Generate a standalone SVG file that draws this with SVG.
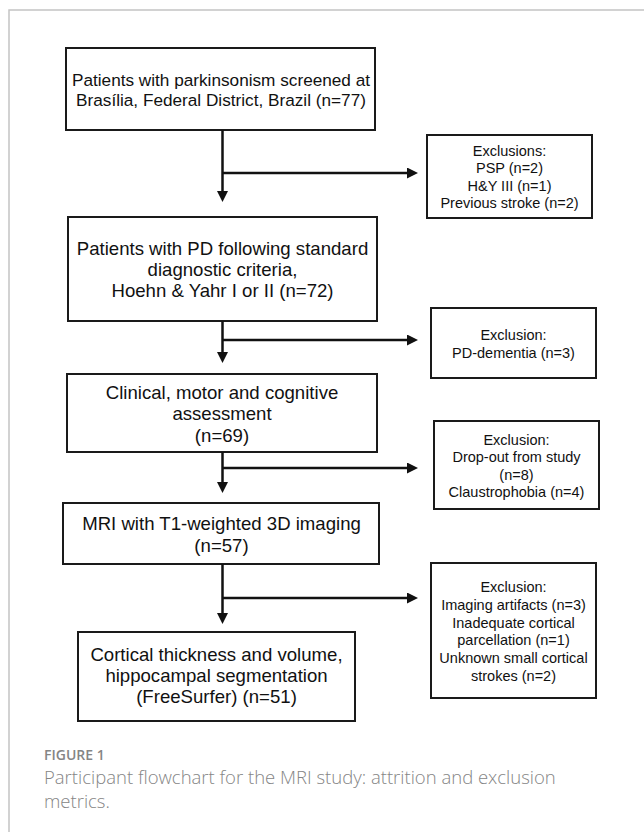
<svg xmlns="http://www.w3.org/2000/svg" width="644" height="832" viewBox="0 0 644 832">
<style>
.box{fill:#fff;stroke:#1a1a1a;stroke-width:2}
.t{font-family:"Liberation Sans",Arial,sans-serif;fill:#111;text-anchor:middle}
.m{font-size:18.6px}
.s{font-size:14.5px}
.c{fill:none;stroke:#111;stroke-width:2.5}
.cap{font-family:"Open Sans","Liberation Sans",sans-serif;fill:#858585}
</style>
<defs>
<marker id="ah" viewBox="0 0 11 11" refX="3" refY="5.5" markerWidth="11" markerHeight="11" markerUnits="userSpaceOnUse" orient="auto">
<path d="M0,0 L11,5.5 L0,11 z" fill="#111"/>
</marker>
</defs>
<rect width="644" height="832" fill="#fff"/>
<path d="M9,832 V10 H644" fill="none" stroke="#c4c4c4" stroke-width="1.5"/>

<g id="n1">
<rect class="box" x="66" y="48" width="309" height="82"/>
<text class="t" x="221" y="86" font-size="17.2">Patients with parkinsonism screened at</text>
<text class="t" x="221" y="106" font-size="17.2">Brasília, Federal District, Brazil (n=77)</text>
</g>
<g id="x1">
<rect class="box" x="427" y="135" width="165" height="83"/>
<text class="t s" x="509.5" y="155.5">Exclusions:</text>
<text class="t s" x="509.5" y="173">PSP (n=2)</text>
<text class="t s" x="509.5" y="190.5">H&amp;Y III (n=1)</text>
<text class="t s" x="509.5" y="208">Previous stroke (n=2)</text>
</g>
<g id="n2">
<rect class="box" x="68" y="217" width="309" height="104"/>
<text class="t m" x="222.5" y="254.5">Patients with PD following standard</text>
<text class="t m" x="222.5" y="275.5">diagnostic criteria,</text>
<text class="t m" x="222.5" y="297">Hoehn &amp; Yahr I or II (n=72)</text>
</g>
<g id="x2">
<rect class="box" x="431" y="308" width="165" height="70"/>
<text class="t s" x="513.5" y="339.5">Exclusion:</text>
<text class="t s" x="513.5" y="357.5">PD-dementia (n=3)</text>
</g>
<g id="n3">
<rect class="box" x="67" y="374" width="310" height="78"/>
<text class="t m" x="222" y="398.5">Clinical, motor and cognitive</text>
<text class="t m" x="222" y="420">assessment</text>
<text class="t m" x="222" y="441.5">(n=69)</text>
</g>
<g id="x3">
<rect class="box" x="434" y="421" width="165" height="88"/>
<text class="t s" x="516.5" y="444.5">Exclusion:</text>
<text class="t s" x="516.5" y="462">Drop-out from study</text>
<text class="t s" x="516.5" y="479.5">(n=8)</text>
<text class="t s" x="516.5" y="497">Claustrophobia (n=4)</text>
</g>
<g id="n4">
<rect class="box" x="63" y="503" width="316" height="61"/>
<text class="t m" x="221.5" y="530">MRI with T1-weighted 3D imaging</text>
<text class="t m" x="221.5" y="551.5">(n=57)</text>
</g>
<g id="x4">
<rect class="box" x="431" y="563" width="165" height="135"/>
<text class="t s" x="513.5" y="592">Exclusion:</text>
<text class="t s" x="513.5" y="609.5">Imaging artifacts (n=3)</text>
<text class="t s" x="513.5" y="627.5">Inadequate cortical</text>
<text class="t s" x="513.5" y="645">parcellation (n=1)</text>
<text class="t s" x="513.5" y="663">Unknown small cortical</text>
<text class="t s" x="513.5" y="680.5">strokes (n=2)</text>
</g>
<g id="n5">
<rect class="box" x="78" y="632" width="277" height="89"/>
<text class="t m" x="216.5" y="661">Cortical thickness and volume,</text>
<text class="t m" x="216.5" y="682">hippocampal segmentation</text>
<text class="t m" x="216.5" y="703">(FreeSurfer) (n=51)</text>
</g>

<g id="connectors">
<path class="c" d="M222.5,130 V194" marker-end="url(#ah)"/>
<path class="c" d="M222.5,173 H410" marker-end="url(#ah)"/>
<path class="c" d="M222.5,321 V355" marker-end="url(#ah)"/>
<path class="c" d="M222.5,340 H410" marker-end="url(#ah)"/>
<path class="c" d="M222.5,452 V485" marker-end="url(#ah)"/>
<path class="c" d="M222.5,468 H410" marker-end="url(#ah)"/>
<path class="c" d="M222.5,564 V616" marker-end="url(#ah)"/>
<path class="c" d="M222.5,598 H410" marker-end="url(#ah)"/>
</g>

<g id="caption">
<text class="cap" x="44" y="759.5" font-size="14" font-weight="600">FIGURE 1</text>
<text class="cap" x="44" y="783.5" font-size="18.5" font-weight="300">Participant flowchart for the MRI study: attrition and exclusion</text>
<text class="cap" x="44" y="807.5" font-size="18.5" font-weight="300">metrics.</text>
</g>
</svg>
